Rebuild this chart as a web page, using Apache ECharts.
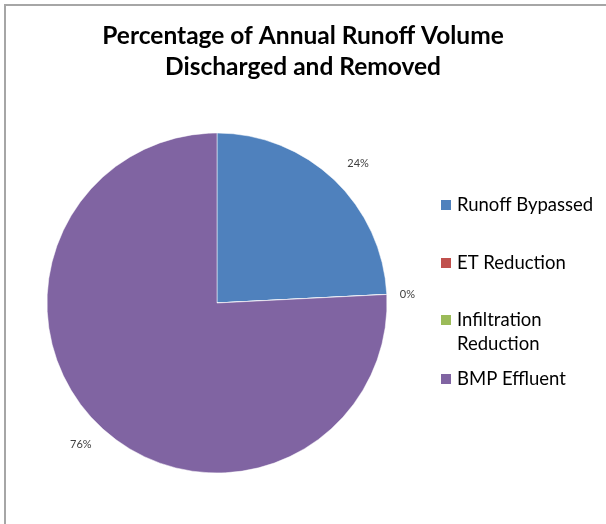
<!DOCTYPE html>
<html>
<head>
<meta charset="utf-8">
<script src="https://cdn.jsdelivr.net/npm/echarts@6/dist/echarts.min.js"></script>
<style>
  html, body { margin: 0; padding: 0; background: #fff; }
  #frame { position: absolute; left: 4px; top: 4px; width: 602px; height: 520px;
           border-top: 2px solid #a6a6a6; border-left: 2px solid #a6a6a6; box-sizing: border-box; }
  #chart { position: absolute; left: 0; top: 0; width: 606px; height: 524px; }
</style>
</head>
<body>
<div id="frame"></div>
<div id="chart"></div>
<script>
const titleText = 'Percentage of Annual Runoff Volume\nDischarged and Removed';
const categories = ['Runoff Bypassed', 'ET Reduction', 'Infiltration Reduction', 'BMP Effluent'];
const legendLabels = ['Runoff Bypassed', 'ET Reduction', ' \nInfiltration\nReduction', 'BMP Effluent'];
const values = [24.2, 0, 0, 75.8];
const colors = ['#4F81BD', '#C0504D', '#9BBB59', '#8064A2'];

const labelLengths = [22, 8, 8, 25];
const labelLengths2 = [-7, 0, 0, -14];
const labelShow = [true, false, true, true];
const legendTops = [193, 251, 284, 367];

const chart = echarts.init(document.getElementById('chart'), null, { renderer: 'canvas' });

const legends = categories.map((c, i) => ({
  data: [c],
  orient: 'vertical',
  left: 439,
  top: legendTops[i],
  padding: 0,
  itemWidth: 12,
  itemHeight: 12,
  icon: 'rect',
  selectedMode: false,
  formatter: () => legendLabels[i],
  textStyle: {
    fontFamily: 'Lato',
    fontSize: 18.5,
    color: '#000',
    lineHeight: 24
  }
}));

chart.setOption({
  animation: false,
  color: colors,
  title: {
    text: titleText,
    left: 'center',
    top: 16,
    padding: [5, 0, 5, 7],
    textStyle: { fontFamily: 'Lato', fontWeight: 'bold', fontSize: 24.5, color: '#000', lineHeight: 31 }
  },
  legend: legends,
  series: [{
    type: 'pie',
    center: [217, 303],
    radius: 170,
    startAngle: 90,
    clockwise: true,
    avoidLabelOverlap: false,
    minShowLabelAngle: 0,
    stillShowZeroSum: true,
    itemStyle: { borderColor: '#fff', borderWidth: 0.5 },
    label: {
      show: true,
      position: 'outside',
      formatter: p => Math.round(p.percent) + '%',
      fontFamily: 'Lato',
      fontSize: 11,
      color: '#404040'
    },
    labelLine: { show: false, length: 20, length2: 0 },
    emphasis: { disabled: true },
    data: categories.map((c, i) => ({
      name: c,
      value: values[i],
      label: { show: labelShow[i] },
      labelLine: { length: labelLengths[i], length2: labelLengths2[i] }
    }))
  }]
});
</script>
</body>
</html>
